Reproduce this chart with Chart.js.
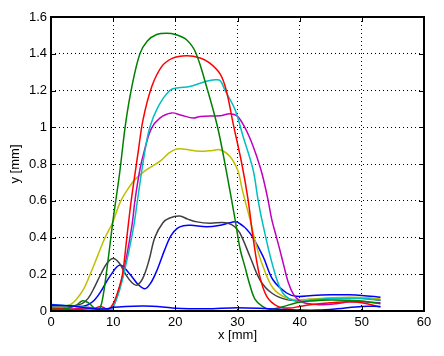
<!DOCTYPE html>
<html>
<head>
<meta charset="utf-8">
<script src="https://cdn.jsdelivr.net/npm/chart.js@4/dist/chart.umd.min.js"></script>
<style>
html,body{margin:0;padding:0;background:#fff;}
canvas{display:block;}
</style>
</head>
<body>
<canvas id="c" width="444" height="356"></canvas>
<script>
// ---- data (x in mm, y in mm) ----
const xTickLabels = ['0','10','20','30','40','50','60'];
const yTickLabels = ['0','0.2','0.4','0.6','0.8','1','1.2','1.4','1.6'];

const blueFlatX = [0, 3, 5, 7, 9, 10, 12, 15, 18, 20, 25, 30, 35, 38, 40, 43, 46, 50, 53];
const blueFlatY = [0.03, 0.028, 0.02, 0.012, 0.012, 0.02, 0.025, 0.027, 0.022, 0.015, 0.012, 0.018, 0.012, 0.008, 0.005, 0.005, 0.012, 0.025, 0.025];

const greenX = [0, 2, 4, 5, 6, 7, 7.6, 8.2, 9, 10, 11, 12, 13, 14.3, 15.5, 17, 18.6, 20, 21.8, 23.3, 25.2, 26.8, 28.1, 29.6, 30.4, 31.2, 32, 32.8, 34, 35.2, 37, 39.5, 42, 45, 48, 50, 53];
const greenY = [0.01, 0.01, 0.03, 0.055, 0.045, 0.015, 0.005, 0.05, 0.23, 0.5, 0.74, 1.02, 1.22, 1.4, 1.47, 1.505, 1.512, 1.505, 1.476, 1.404, 1.2, 1.0, 0.78, 0.5, 0.34, 0.24, 0.14, 0.065, 0.025, 0.01, 0.02, 0.045, 0.055, 0.06, 0.058, 0.055, 0.04];

const redX = [0, 3, 5, 7, 8, 9.2, 10, 10.8, 11.5, 12.2, 12.9, 14, 14.8, 16.2, 17.8, 19.5, 21.8, 24, 25.5, 27.2, 28.2, 29.3, 30.7, 31.7, 32.5, 33.5, 34.7, 36.5, 38.4, 40, 42, 45, 48, 50, 53];
const redY = [0.015, 0.01, 0.01, 0.015, 0.025, 0.01, 0.04, 0.11, 0.2, 0.4, 0.6, 0.86, 1.04, 1.22, 1.33, 1.375, 1.389, 1.377, 1.35, 1.29, 1.2, 1.02, 0.8, 0.606, 0.4, 0.2, 0.08, 0.025, 0.016, 0.025, 0.035, 0.045, 0.05, 0.045, 0.022];

const cyanX = [0, 3, 5, 7, 8.5, 9.5, 10.5, 11.7, 13.2, 13.9, 15, 15.9, 17.2, 19.1, 20.5, 22.3, 25, 26.4, 27.2, 28, 29.6, 30.9, 32.5, 33.3, 33.9, 35.7, 37.3, 39.5, 42, 45, 48, 50, 53];
const cyanY = [0.03, 0.03, 0.025, 0.01, 0.01, 0.002, 0.06, 0.2, 0.44, 0.6, 0.85, 1.0, 1.11, 1.2, 1.215, 1.222, 1.25, 1.258, 1.255, 1.2, 1.096, 0.95, 0.77, 0.606, 0.5, 0.243, 0.098, 0.052, 0.06, 0.068, 0.07, 0.068, 0.06];

const magentaX = [0, 3, 5, 6, 7, 8, 9, 9.7, 10.5, 11.6, 13, 13.5, 14.3, 15, 16.1, 17.5, 19.4, 21, 22.9, 24, 27.2, 28.8, 30, 31, 32, 33, 34, 34.9, 35.5, 36.2, 36.8, 37.5, 38.2, 39, 40, 41, 43.2, 46, 48, 50, 53];
const magentaY = [0.015, 0.01, 0.015, 0.02, 0.012, 0.01, 0.01, 0.005, 0.07, 0.2, 0.46, 0.6, 0.77, 0.87, 0.99, 1.05, 1.078, 1.065, 1.05, 1.059, 1.063, 1.074, 1.06, 1.01, 0.94, 0.85, 0.74, 0.606, 0.5, 0.41, 0.334, 0.24, 0.152, 0.09, 0.055, 0.042, 0.034, 0.04, 0.05, 0.05, 0.045];

const yellowX = [0, 2, 3.1, 4, 5.2, 6.3, 7.5, 8.7, 9.9, 11.1, 12.2, 13.5, 15.4, 17.5, 19, 20.2, 21.5, 24, 26, 27.2, 28.8, 30.1, 30.7, 31.3, 32, 33, 34.1, 35.7, 37.9, 40, 42, 45, 48, 50, 53];
const yellowY = [0.02, 0.025, 0.034, 0.06, 0.116, 0.2, 0.3, 0.4, 0.48, 0.59, 0.655, 0.715, 0.769, 0.814, 0.86, 0.882, 0.88, 0.869, 0.874, 0.878, 0.841, 0.76, 0.67, 0.59, 0.5, 0.36, 0.243, 0.125, 0.07, 0.062, 0.065, 0.072, 0.075, 0.073, 0.065];

const grayX = [0, 3, 5, 6, 7, 8, 9, 10, 11, 12, 13, 13.8, 14.8, 15.8, 16.7, 18, 19, 20.7, 22, 23.5, 25.6, 27.5, 28.5, 29.5, 30.4, 32, 33.6, 35.5, 37.9, 40, 42, 45, 48, 50, 53];
const grayY = [0.02, 0.025, 0.04, 0.07, 0.13, 0.2, 0.26, 0.286, 0.26, 0.2, 0.155, 0.14, 0.18, 0.28, 0.4, 0.48, 0.505, 0.517, 0.5, 0.485, 0.478, 0.482, 0.478, 0.46, 0.424, 0.297, 0.17, 0.098, 0.062, 0.06, 0.062, 0.07, 0.072, 0.07, 0.058];

const blueX = [0, 2, 4, 5, 6, 7, 7.9, 9.5, 11.1, 12.7, 14, 15.1, 16, 17, 18.3, 19.3, 20.3, 21.3, 22.5, 25, 27, 29, 30, 32, 34.1, 35.7, 37.9, 39.5, 42, 45, 48, 50, 53];
const blueY = [0.035, 0.03, 0.025, 0.025, 0.035, 0.06, 0.1, 0.19, 0.25, 0.2, 0.145, 0.121, 0.15, 0.218, 0.334, 0.41, 0.45, 0.464, 0.466, 0.458, 0.465, 0.482, 0.484, 0.424, 0.297, 0.17, 0.098, 0.08, 0.085, 0.088, 0.088, 0.085, 0.075];

const seriesColors = {
  blue: '#0000ff', green: '#008000', red: '#ff0000', cyan: '#00bfbf',
  magenta: '#bf00bf', yellow: '#bfbf00', gray: '#404040'
};

function pts(xs, ys) { return xs.map((x, i) => ({x: x, y: ys[i]})); }
function ds(xs, ys, color) {
  return {
    data: pts(xs, ys), borderColor: color, backgroundColor: color,
    borderWidth: 1.5, pointRadius: 0, fill: false,
    tension: 0.35
  };
}

const FONT = 'Liberation Sans, Arial, Helvetica, sans-serif';

const boxPlugin = {
  id: 'matlabBox',
  afterDatasetsDraw(chart) {
    const {ctx, chartArea: a, scales: {x, y}} = chart;
    ctx.save();
    ctx.strokeStyle = '#000';
    ctx.lineWidth = 1;
    const tl = 5;
    x.ticks.forEach(t => {
      const px = Math.round(x.getPixelForValue(t.value)) + 0.5;
      ctx.beginPath();
      ctx.moveTo(px, a.bottom); ctx.lineTo(px, a.bottom - tl);
      ctx.moveTo(px, a.top); ctx.lineTo(px, a.top + tl);
      ctx.stroke();
    });
    y.ticks.forEach(t => {
      const py = Math.round(y.getPixelForValue(t.value)) + 0.5;
      ctx.beginPath();
      ctx.moveTo(a.left, py); ctx.lineTo(a.left + tl, py);
      ctx.moveTo(a.right, py); ctx.lineTo(a.right - tl, py);
      ctx.stroke();
    });
    ctx.lineWidth = 2;
    ctx.strokeRect(a.left, a.top, a.right - a.left, a.bottom - a.top);
    ctx.restore();
  }
};

new Chart(document.getElementById('c'), {
  type: 'line',
  data: {
    datasets: [
      ds(blueFlatX, blueFlatY, seriesColors.blue),
      ds(greenX, greenY, seriesColors.green),
      ds(redX, redY, seriesColors.red),
      ds(cyanX, cyanY, seriesColors.cyan),
      ds(magentaX, magentaY, seriesColors.magenta),
      ds(yellowX, yellowY, seriesColors.yellow),
      ds(grayX, grayY, seriesColors.gray),
      ds(blueX, blueY, seriesColors.blue)
    ]
  },
  options: {
    responsive: false,
    animation: false,
    devicePixelRatio: 1,
    layout: {padding: {top: 17, right: 20, left: 0, bottom: 0}},
    plugins: {legend: {display: false}, tooltip: {enabled: false}},
    scales: {
      x: {
        type: 'linear', min: 0, max: 60,
        afterFit(s) { s.height = 45; },
        ticks: {
          stepSize: 10, color: '#000', padding: 4,
          font: {family: FONT, size: 13},
          callback: (v, i) => xTickLabels[i]
        },
        grid: {color: '#000', lineWidth: 1, drawTicks: false},
        border: {display: false, dash: [1, 3]},
        title: {display: true, text: 'x [mm]', color: '#000',
                font: {family: FONT, size: 13}, padding: {top: 0, bottom: 13}}
      },
      y: {
        type: 'linear', min: 0, max: 1.6,
        afterFit(s) { s.width = 51; },
        ticks: {
          stepSize: 0.2, color: '#000', padding: 4,
          font: {family: FONT, size: 13},
          callback: (v, i) => yTickLabels[i]
        },
        grid: {color: '#000', lineWidth: 1, drawTicks: false},
        border: {display: false, dash: [1, 3]},
        title: {display: true, text: 'y [mm]', color: '#000',
                font: {family: FONT, size: 13}, padding: {top: 8, bottom: 0}}
      }
    }
  },
  plugins: [boxPlugin]
});
</script>
</body>
</html>
